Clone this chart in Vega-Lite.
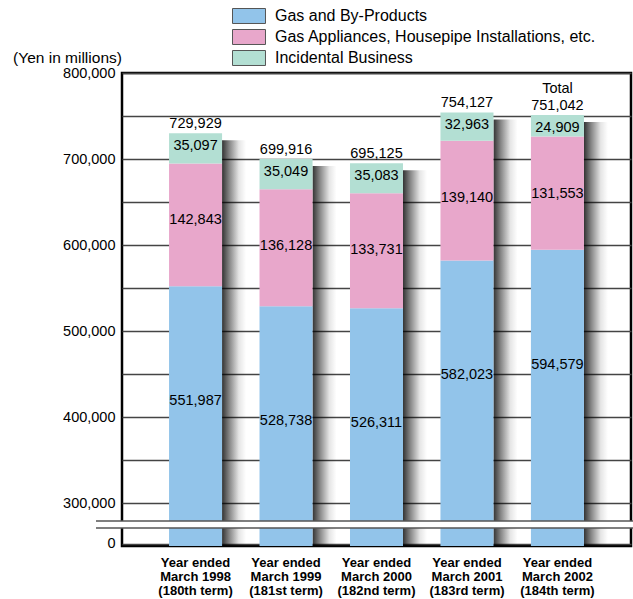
{
  "$schema": "https://vega.github.io/schema/vega-lite/v6.json",
  "width": 509,
  "height": 473,
  "autosize": {"type": "none"},
  "padding": {"left": 122, "top": 73, "right": 2, "bottom": 53},
  "background": "white",
  "config": {
    "view": {"stroke": "#000", "strokeWidth": 2.5},
    "font": "Liberation Sans",
    "text": {"font": "Liberation Sans", "fontSize": 14.5, "color": "#000"}
  },
  "datasets": {
    "seg": [
      {"period": "Year ended\nMarch 1998\n(180th term)", "category": "Gas and By-Products", "rank": 1, "value": 551987},
      {"period": "Year ended\nMarch 1998\n(180th term)", "category": "Gas Appliances, Housepipe Installations, etc.", "rank": 2, "value": 142843},
      {"period": "Year ended\nMarch 1998\n(180th term)", "category": "Incidental Business", "rank": 3, "value": 35097},
      {"period": "Year ended\nMarch 1999\n(181st term)", "category": "Gas and By-Products", "rank": 1, "value": 528738},
      {"period": "Year ended\nMarch 1999\n(181st term)", "category": "Gas Appliances, Housepipe Installations, etc.", "rank": 2, "value": 136128},
      {"period": "Year ended\nMarch 1999\n(181st term)", "category": "Incidental Business", "rank": 3, "value": 35049},
      {"period": "Year ended\nMarch 2000\n(182nd term)", "category": "Gas and By-Products", "rank": 1, "value": 526311},
      {"period": "Year ended\nMarch 2000\n(182nd term)", "category": "Gas Appliances, Housepipe Installations, etc.", "rank": 2, "value": 133731},
      {"period": "Year ended\nMarch 2000\n(182nd term)", "category": "Incidental Business", "rank": 3, "value": 35083},
      {"period": "Year ended\nMarch 2001\n(183rd term)", "category": "Gas and By-Products", "rank": 1, "value": 582023},
      {"period": "Year ended\nMarch 2001\n(183rd term)", "category": "Gas Appliances, Housepipe Installations, etc.", "rank": 2, "value": 139140},
      {"period": "Year ended\nMarch 2001\n(183rd term)", "category": "Incidental Business", "rank": 3, "value": 32963},
      {"period": "Year ended\nMarch 2002\n(184th term)", "category": "Gas and By-Products", "rank": 1, "value": 594579},
      {"period": "Year ended\nMarch 2002\n(184th term)", "category": "Gas Appliances, Housepipe Installations, etc.", "rank": 2, "value": 131553},
      {"period": "Year ended\nMarch 2002\n(184th term)", "category": "Incidental Business", "rank": 3, "value": 24909}
    ],
    "tot": [
      {"period": "Year ended\nMarch 1998\n(180th term)", "total": 729929},
      {"period": "Year ended\nMarch 1999\n(181st term)", "total": 699916},
      {"period": "Year ended\nMarch 2000\n(182nd term)", "total": 695125},
      {"period": "Year ended\nMarch 2001\n(183rd term)", "total": 754127},
      {"period": "Year ended\nMarch 2002\n(184th term)", "total": 751042}
    ]
  },
  "layer": [
    {
      "data": {"name": "tot"},
      "mark": {
        "type": "bar", "width": 24, "xOffset": 38.5, "yOffset": 7, "clip": true,
        "color": {
          "gradient": "linear", "x1": 0, "x2": 1, "y1": 0, "y2": 0,
          "stops": [
            {"offset": 0, "color": "rgba(0,0,0,0.8)"},
            {"offset": 0.3, "color": "rgba(0,0,0,0.48)"},
            {"offset": 0.7, "color": "rgba(0,0,0,0.1)"},
            {"offset": 1, "color": "rgba(0,0,0,0)"}
          ]
        }
      },
      "encoding": {
        "x": {
          "field": "period", "type": "nominal", "title": null,
          "scale": {"paddingInner": 0.414, "paddingOuter": 0.52},
          "axis": {
            "domain": false, "ticks": false, "grid": false,
            "labelAngle": 0, "labelExpr": "split(datum.label, '\\n')",
            "labelFont": "Liberation Sans", "labelFontWeight": "bold", "labelFontSize": 13,
            "labelColor": "#000", "labelLineHeight": 14, "labelBaseline": "top", "labelPadding": 10
          }
        },
        "y": {
          "field": "total", "type": "quantitative",
          "scale": {"domain": [252500, 800000]},
          "axis": {
            "title": "(Yen in millions)", "titleAngle": 0, "titleX": -55, "titleY": -16,
            "titleAlign": "center", "titleBaseline": "middle", "titleFont": "Liberation Sans",
            "titleFontSize": 15.5, "titleFontWeight": "normal", "titleColor": "#000",
            "values": [252500, 300000, 350000, 400000, 450000, 500000, 550000, 600000, 650000, 700000, 750000, 800000],
            "labelExpr": "datum.value == 252500 ? '0' : (datum.value % 100000 == 0 ? format(datum.value, ',') : '')",
            "labelFont": "Liberation Sans", "labelFontSize": 14.5, "labelColor": "#000",
            "labelOverlap": false, "labelPadding": 7, "ticks": false, "tickSize": 0, "domain": false,
            "grid": true, "gridColor": "#444", "gridWidth": 1.3, "gridOpacity": 1
          }
        }
      }
    },
    {
      "data": {"name": "seg"},
      "transform": [
        {"stack": "value", "groupby": ["period"], "sort": [{"field": "rank", "order": "ascending"}], "as": ["v0", "v1"]}
      ],
      "layer": [
        {
          "mark": {"type": "bar", "clip": true},
          "encoding": {
            "x": {"field": "period", "type": "nominal", "title": null},
            "y": {"field": "v1", "type": "quantitative"},
            "y2": {"field": "v0"},
            "color": {
              "field": "category", "type": "nominal",
              "scale": {
                "domain": ["Gas and By-Products", "Gas Appliances, Housepipe Installations, etc.", "Incidental Business"],
                "range": ["#92c4ea", "#e8a7cb", "#b3dfd3"]
              },
              "legend": {
                "title": null, "orient": "none", "legendX": 116, "legendY": -68, "padding": 0,
                "symbolType": "M-1.571,-0.714H1.571V0.714H-1.571Z", "symbolSize": 441,
                "symbolStrokeColor": "#555", "symbolStrokeWidth": 1, "symbolOpacity": 1,
                "labelFont": "Liberation Sans", "labelFontSize": 16, "labelColor": "#000",
                "labelOffset": 15, "labelLimit": 500, "rowPadding": 0
              }
            }
          }
        },
        {
          "transform": [{"filter": "datum.rank == 1"}],
          "mark": {"type": "text", "baseline": "middle", "dy": 115},
          "encoding": {
            "x": {"field": "period", "type": "nominal", "title": null},
            "y": {"field": "v1", "type": "quantitative"},
            "text": {"field": "value", "type": "quantitative", "format": ","}
          }
        },
        {
          "transform": [{"filter": "datum.rank == 2"}],
          "mark": {"type": "text", "baseline": "middle", "dy": 57},
          "encoding": {
            "x": {"field": "period", "type": "nominal", "title": null},
            "y": {"field": "v1", "type": "quantitative"},
            "text": {"field": "value", "type": "quantitative", "format": ","}
          }
        },
        {
          "transform": [{"filter": "datum.rank == 3"}],
          "mark": {"type": "text", "baseline": "middle", "dy": 12.5},
          "encoding": {
            "x": {"field": "period", "type": "nominal", "title": null},
            "y": {"field": "v1", "type": "quantitative"},
            "text": {"field": "value", "type": "quantitative", "format": ","}
          }
        }
      ]
    },
    {
      "data": {"values": [{}]},
      "mark": {"type": "rect", "color": "white"},
      "encoding": {
        "y": {"datum": 279000, "type": "quantitative"},
        "y2": {"datum": 271000},
        "x": {"value": -26},
        "x2": {"value": 512}
      }
    },
    {
      "data": {"values": [{}]},
      "mark": {"type": "rule", "color": "#555", "strokeWidth": 1.5},
      "encoding": {
        "y": {"datum": 279000, "type": "quantitative"},
        "x": {"value": -26},
        "x2": {"value": 512}
      }
    },
    {
      "data": {"values": [{}]},
      "mark": {"type": "rule", "color": "#555", "strokeWidth": 1.5},
      "encoding": {
        "y": {"datum": 271000, "type": "quantitative"},
        "x": {"value": -26},
        "x2": {"value": 512}
      }
    },
    {
      "data": {"name": "tot"},
      "mark": {"type": "text", "baseline": "bottom", "dy": -2},
      "encoding": {
        "x": {"field": "period", "type": "nominal", "title": null},
        "y": {"field": "total", "type": "quantitative"},
        "text": {"field": "total", "type": "quantitative", "format": ","}
      }
    },
    {
      "data": {"name": "tot"},
      "transform": [{"filter": "indexof(datum.period, '2002') >= 0"}],
      "mark": {"type": "text", "baseline": "bottom", "dy": -19, "text": "Total"},
      "encoding": {
        "x": {"field": "period", "type": "nominal", "title": null},
        "y": {"field": "total", "type": "quantitative"}
      }
    }
  ]
}
